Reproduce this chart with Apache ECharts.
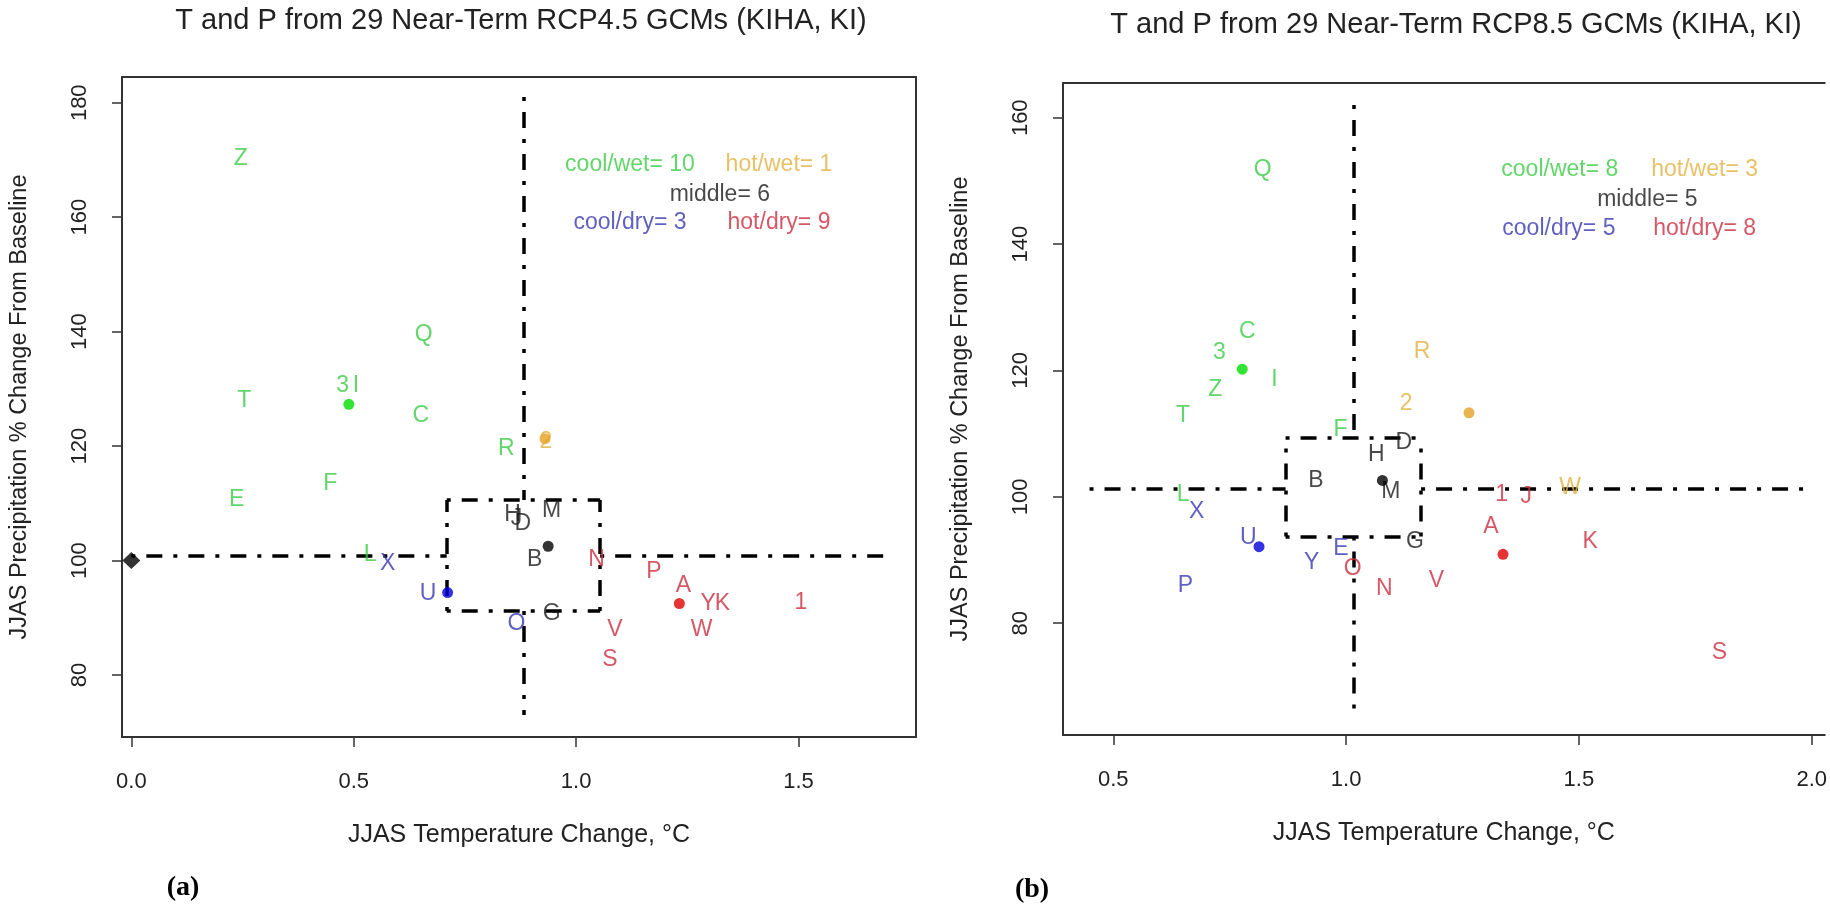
<!DOCTYPE html>
<html>
<head>
<meta charset="utf-8">
<title>T and P from 29 Near-Term GCMs (KIHA, KI)</title>
<script src="https://cdn.jsdelivr.net/npm/echarts@6.0.0/dist/echarts.min.js"></script>
<style>
  html, body { margin: 0; padding: 0; background: #fff; }
  #chart { width: 1830px; height: 907px; }
</style>
</head>
<body>
<div id="chart"></div>
<script>
// quadrant groups, in the order used by the means / counts below
const groups = ['cool/wet', 'hot/wet', 'middle', 'cool/dry', 'hot/dry']

// ---- (a) RCP4.5 ----
const modelsA = ['Z', 'Q', '3', 'I', 'T', 'C', 'R', 'F', 'E', 'L',
  '2',
  'H', 'J', 'D', 'M', 'B', 'G',
  'X', 'U', 'O',
  'N', 'P', 'A', 'Y', 'K', '1', 'V', 'W', 'S']
const groupA = ['cool/wet', 'cool/wet', 'cool/wet', 'cool/wet', 'cool/wet', 'cool/wet', 'cool/wet', 'cool/wet', 'cool/wet', 'cool/wet',
  'hot/wet',
  'middle', 'middle', 'middle', 'middle', 'middle', 'middle',
  'cool/dry', 'cool/dry', 'cool/dry',
  'hot/dry', 'hot/dry', 'hot/dry', 'hot/dry', 'hot/dry', 'hot/dry', 'hot/dry', 'hot/dry', 'hot/dry']
const tempA = [0.246, 0.657, 0.475, 0.505, 0.254, 0.651, 0.843, 0.447, 0.237, 0.537,
  0.932,
  0.857, 0.866, 0.880, 0.945, 0.907, 0.945,
  0.576, 0.667, 0.866,
  1.046, 1.175, 1.241, 1.297, 1.329, 1.505, 1.087, 1.282, 1.076]
const precipA = [170.2, 139.5, 130.5, 130.5, 127.9, 125.3, 119.5, 113.4, 110.6, 101.1,
  120.8,
  108.0, 107.4, 106.5, 108.8, 100.1, 90.8,
  99.4, 94.2, 88.9,
  100.1, 98.0, 95.6, 92.4, 92.4, 92.6, 87.9, 87.9, 82.7]
const meanTempA = [0.489, 0.930, 0.937, 0.711, 1.232]
const meanPrecipA = [127.3, 121.3, 102.5, 94.4, 92.5]
const countA = [10, 1, 6, 3, 9]
const countTempA = [1.121, 1.456, 1.323, 1.121, 1.456]
const countPrecipA = [169.2, 169.2, 164.0, 159.0, 159.0]
const boxA = [0.709, 1.054, 91.2, 110.6]      // T lo, T hi, P lo, P hi
const crossA = [0.883, 100.85]                // T, P of the cross lines
const reachA = [0, 1.713, 73.0, 181.0]        // ends of the cross lines
const baselineA = [0, 100]
const xTicksA = [0, 0.5, 1, 1.5]
const yTicksA = [80, 100, 120, 140, 160, 180]

// ---- (b) RCP8.5 ----
const modelsB = ['Q', 'C', '3', 'I', 'Z', 'T', 'F', 'L',
  'R', '2', 'W',
  'H', 'D', 'B', 'M', 'G',
  'X', 'U', 'E', 'Y', 'P',
  '1', 'J', 'A', 'K', 'S', 'O', 'N', 'V']
const groupB = ['cool/wet', 'cool/wet', 'cool/wet', 'cool/wet', 'cool/wet', 'cool/wet', 'cool/wet', 'cool/wet',
  'hot/wet', 'hot/wet', 'hot/wet',
  'middle', 'middle', 'middle', 'middle', 'middle',
  'cool/dry', 'cool/dry', 'cool/dry', 'cool/dry', 'cool/dry',
  'hot/dry', 'hot/dry', 'hot/dry', 'hot/dry', 'hot/dry', 'hot/dry', 'hot/dry', 'hot/dry']
const tempB = [0.821, 0.788, 0.728, 0.846, 0.719, 0.650, 0.988, 0.650,
  1.163, 1.129, 1.481,
  1.065, 1.124, 0.935, 1.096, 1.148,
  0.679, 0.790, 0.989, 0.926, 0.655,
  1.334, 1.387, 1.311, 1.524, 1.802, 1.014, 1.082, 1.194]
const precipB = [151.8, 126.1, 122.8, 118.6, 117.0, 112.9, 110.6, 100.4,
  123.0, 114.7, 101.5,
  106.6, 108.5, 102.5, 100.8, 92.9,
  97.7, 93.6, 91.8, 89.5, 85.9,
  100.3, 100.0, 95.3, 92.9, 75.4, 88.7, 85.5, 86.8]
const meanTempB = [0.777, 1.264, 1.078, 0.813, 1.337]
const meanPrecipB = [120.2, 113.3, 102.6, 92.1, 90.9]
const countB = [8, 3, 5, 5, 8]
const countTempB = [1.459, 1.770, 1.647, 1.457, 1.770]
const countPrecipB = [151.8, 151.8, 147.1, 142.5, 142.5]
const boxB = [0.870, 1.161, 93.7, 109.4]
const crossB = [1.016, 101.3]
const reachB = [0.449, 1.989, 66.0, 162.0]
const xTicksB = [0.5, 1, 1.5, 2]
const yTicksB = [80, 100, 120, 140, 160]

// colours
const textColor = {
  'cool/wet': '#3ccc46',
  'hot/wet': '#e2b040',
  'middle': '#1a1a1a',
  'cool/dry': '#3838b2',
  'hot/dry': '#cc2e40'
}
const dotColor = {
  'cool/wet': '#00dd00',
  'hot/wet': '#e5a020',
  'middle': '#000000',
  'cool/dry': '#0000dd',
  'hot/dry': '#e00000'
}

const font = '"Liberation Sans", Arial, sans-serif'
const ink = '#222'
const frame = { color: '#333', width: 2 }

// dot-dash segments: cross lines stop at the middle box
const segments = (box, cross, reach) => [
  [[reach[0], cross[1]], [box[0], cross[1]]],
  [[box[1], cross[1]], [reach[1], cross[1]]],
  [[cross[0], reach[3]], [cross[0], box[3]]],
  [[cross[0], box[2]], [cross[0], reach[2]]],
  [[box[0], box[3]], [box[1], box[3]]],
  [[box[0], box[2]], [box[1], box[2]]],
  [[box[0], box[2]], [box[0], box[3]]],
  [[box[1], box[2]], [box[1], box[3]]]
].map(c => ({ coords: c }))

const panelSeries = (idx, models, group, temp, precip, mt, mp, counts, ct, cp, box, cross, reach) => [
  {
    type: 'lines',
    coordinateSystem: 'cartesian2d',
    xAxisIndex: idx, yAxisIndex: idx,
    silent: true, z: 2,
    lineStyle: { color: '#000', width: 3.5, type: [4, 11, 16, 11], cap: 'butt', opacity: 1 },
    data: segments(box, cross, reach)
  },
  {
    type: 'scatter',
    xAxisIndex: idx, yAxisIndex: idx,
    silent: true, z: 3,
    symbolSize: 1,
    itemStyle: { color: 'transparent' },
    label: { show: true, position: 'inside', formatter: '{b}', fontSize: 23, fontFamily: font },
    data: models.map((m, i) => ({
      name: m,
      value: [temp[i], precip[i]],
      label: { color: textColor[group[i]] }
    }))
  },
  {
    type: 'scatter',
    xAxisIndex: idx, yAxisIndex: idx,
    silent: true, z: 4,
    symbolSize: 11,
    data: groups.map((g, i) => ({ value: [mt[i], mp[i]], itemStyle: { color: dotColor[g] } }))
  },
  {
    type: 'scatter',
    xAxisIndex: idx, yAxisIndex: idx,
    silent: true, z: 3,
    symbolSize: 1,
    itemStyle: { color: 'transparent' },
    label: { show: true, position: 'inside', formatter: '{b}', fontSize: 23, fontFamily: font },
    data: groups.map((g, i) => ({
      name: g + '= ' + counts[i],
      value: [ct[i], cp[i]],
      label: { color: textColor[g] }
    }))
  }
]

const xAxisOf = (idx, min, max, ticks) => ({
  type: 'value', gridIndex: idx, min: min, max: max,
  name: 'JJAS Temperature Change, °C',
  nameLocation: 'middle', nameGap: 86,
  nameTextStyle: { fontSize: 25, fontFamily: font, color: ink },
  splitLine: { show: false },
  axisLine: { show: true, onZero: false, lineStyle: frame },
  axisTick: { show: true, length: 10, customValues: ticks, lineStyle: { color: '#333', width: 1.5 } },
  axisLabel: { customValues: ticks, formatter: v => v.toFixed(1), fontSize: 22, fontFamily: font, color: ink, margin: 34 }
})

const yAxisOf = (idx, min, max, ticks) => ({
  type: 'value', gridIndex: idx, min: min, max: max,
  name: 'JJAS Precipitation % Change From Baseline',
  nameLocation: 'middle', nameGap: 90, nameRotate: 90,
  nameTextStyle: { fontSize: 23.5, fontFamily: font, color: ink },
  splitLine: { show: false },
  axisLine: { show: true, onZero: false, lineStyle: frame },
  axisTick: { show: true, length: 10, customValues: ticks, lineStyle: { color: '#333', width: 1.5 } },
  axisLabel: { customValues: ticks, rotate: 90, fontSize: 22, fontFamily: font, color: ink, margin: 31 }
})

// bare axis used only as the top frame line of panel (b), whose right side is cut off
const frameTop = (idx, min, max) => ({
  type: 'value', gridIndex: idx, min: min, max: max, position: 'top',
  splitLine: { show: false }, axisTick: { show: false }, axisLabel: { show: false },
  axisLine: { show: true, onZero: false, lineStyle: frame }
})

const chart = echarts.init(document.getElementById('chart'))
chart.setOption({
  animation: false,
  backgroundColor: '#fff',
  grid: [
    { left: 122, top: 77, width: 794, height: 660, show: true, borderColor: '#333', borderWidth: 2 },
    { left: 1063, top: 83, width: 767, height: 652, show: false }
  ],
  xAxis: [
    xAxisOf(0, -0.021, 1.764, xTicksA),
    xAxisOf(1, 0.392, 2.028, xTicksB),
    frameTop(1, 0.392, 2.028)
  ],
  yAxis: [
    yAxisOf(0, 69.17, 184.5, yTicksA),
    yAxisOf(1, 62.3, 165.5, yTicksB)
  ],
  graphic: [
    { type: 'text', x: 521, y: 21, style: { text: 'T and P from 29 Near-Term RCP4.5 GCMs (KIHA, KI)', align: 'center', verticalAlign: 'middle', fontSize: 29, fontFamily: font, fill: ink } },
    { type: 'text', x: 1456, y: 25, style: { text: 'T and P from 29 Near-Term RCP8.5 GCMs (KIHA, KI)', align: 'center', verticalAlign: 'middle', fontSize: 29, fontFamily: font, fill: ink } },
    { type: 'text', x: 183, y: 888, style: { text: '(a)', align: 'center', verticalAlign: 'middle', fontSize: 28, fontWeight: 'bold', fontFamily: '"Liberation Serif", "Times New Roman", serif', fill: '#000' } },
    { type: 'text', x: 1032, y: 890, style: { text: '(b)', align: 'center', verticalAlign: 'middle', fontSize: 28, fontWeight: 'bold', fontFamily: '"Liberation Serif", "Times New Roman", serif', fill: '#000' } }
  ],
  series: [
    ...panelSeries(0, modelsA, groupA, tempA, precipA, meanTempA, meanPrecipA, countA, countTempA, countPrecipA, boxA, crossA, reachA),
    {
      type: 'scatter', xAxisIndex: 0, yAxisIndex: 0, silent: true, z: 5,
      symbol: 'diamond', symbolSize: [18, 17],
      itemStyle: { color: '#000' },
      data: [baselineA]
    },
    ...panelSeries(1, modelsB, groupB, tempB, precipB, meanTempB, meanPrecipB, countB, countTempB, countPrecipB, boxB, crossB, reachB)
  ]
})
</script>
</body>
</html>
